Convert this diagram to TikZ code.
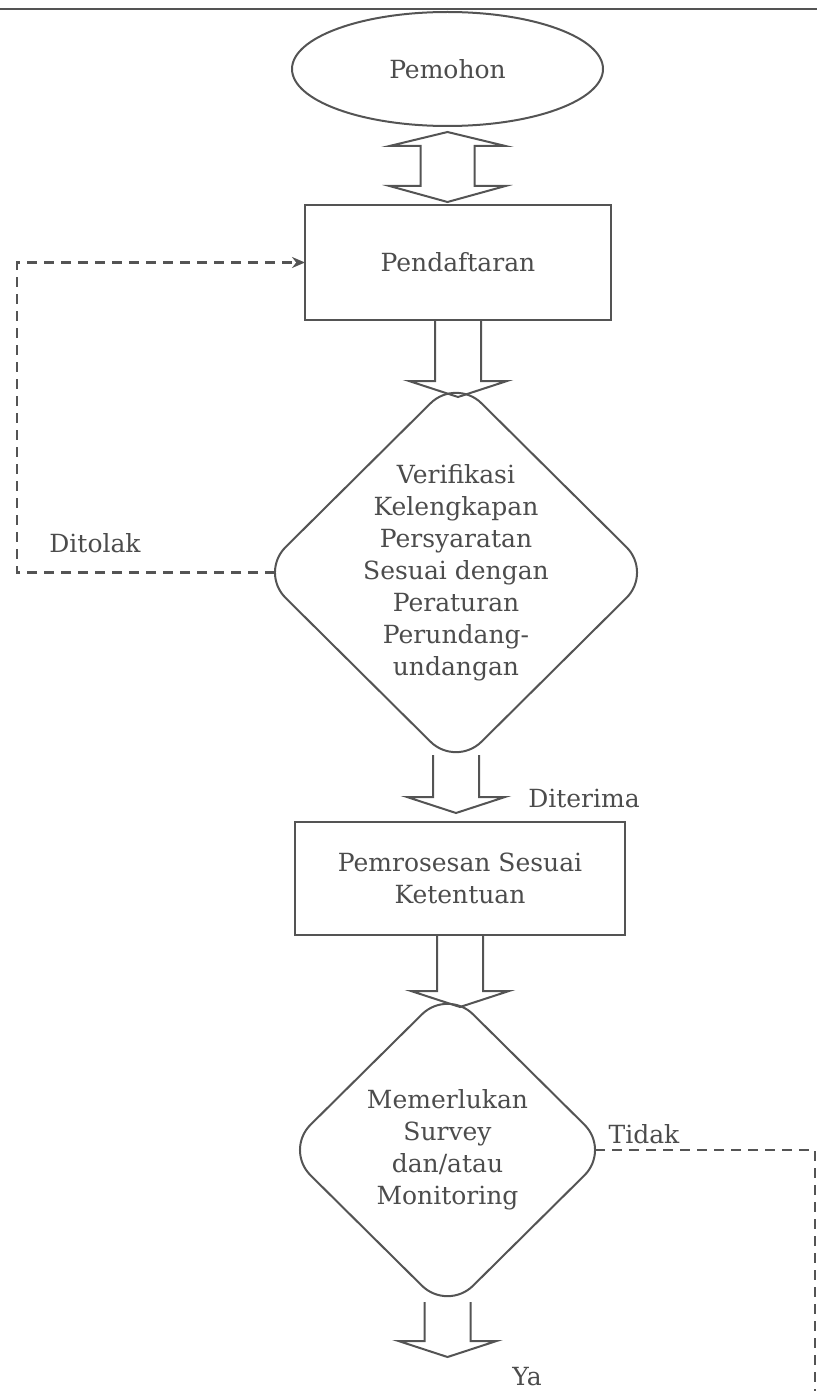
\documentclass[tikz,border=0pt]{standalone}
\usepackage{fontspec}
\setmainfont{DejaVu Serif}
\usetikzlibrary{arrows.meta, calc, shapes.geometric}

\definecolor{linegray}{gray}{0.33}
\definecolor{txtgray}{gray}{0.3}

% hollow block arrow, from #1 (top of shaft) down to #2 (tip)
\newcommand{\hollowarrow}[2]{%
  \draw[hollow] let \p1=(#1), \p2=(#2) in
    (\x1-23pt,\y1) -- (\x1-23pt,\y2+16pt) -- (\x1-49pt,\y2+16pt) -- (\x1,\y2)
    -- (\x1+49pt,\y2+16pt) -- (\x1+23pt,\y2+16pt) -- (\x1+23pt,\y1);}

\begin{document}
\begin{tikzpicture}[x=1pt, y=-1pt,
    every node/.style={font=\fontsize{25}{32}\selectfont, text=txtgray},
    box/.style={draw=linegray, line width=2pt, rectangle, inner sep=0pt, outer sep=0pt},
    terminal/.style={draw=linegray, line width=2pt, ellipse, inner sep=0pt, outer sep=0pt},
    decision/.style={draw=linegray, line width=2pt, diamond, rounded corners=36pt, inner sep=0pt, outer sep=0pt},
    hollow/.style={draw=linegray, line width=2pt, line join=miter},
    dashline/.style={draw=linegray, line width=2.4pt, dash pattern=on 10pt off 7pt},
    lbl/.style={inner sep=0pt}]
    \useasboundingbox (0,0) rectangle (817,1391);

    % garis atas halaman
    \draw[linegray, line width=2.5pt] (0,9) -- (817,9);

    % simpul utama
    \node[terminal, minimum width=311, minimum height=114] (pemohon) at (447.5,69) {Pemohon};
    \node[box, minimum width=306, minimum height=115] (pendaftaran) at (458,262.5) {Pendaftaran};
    \node[decision, minimum width=392, minimum height=389] (verif) at (456,572.5) {};
    \node[align=center] (verif-text) at (verif) {Verifikasi\\Kelengkapan\\Persyaratan\\Sesuai dengan\\Peraturan\\Perundang-\\undangan};
    \node[box, minimum width=330, minimum height=113, align=center] (proses) at (460,878.5) {Pemrosesan Sesuai\\Ketentuan};
    \node[decision, minimum width=325, minimum height=322] (survey) at (447.5,1150) {};
    \node[align=center] (survey-text) at (survey) {Memerlukan\\Survey\\dan/atau\\Monitoring};
    \coordinate (ya-tip) at (448,1357);
    \coordinate (tidak-end) at (815,1400);

    % label cabang
    \node[lbl] (ditolak) at (95,543) {Ditolak};
    \node[lbl] (diterima) at (584,798) {Diterima};
    \node[lbl] (tidak) at (644,1134) {Tidak};
    \node[lbl] (ya) at (527,1377) {Ya};

    % panah dua arah
    \draw[hollow] let \p1=($(pemohon.south)+(0,6)$), \p2=($(pendaftaran.north)+(0,-3)$) in
      (\x1,\y1) -- (\x1+58pt,\y1-14pt) -- (\x1+27pt,\y1-14pt) -- (\x1+27pt,\y2+16pt)
      -- (\x1+58pt,\y2+16pt) -- (\x1,\y2) -- (\x1-58pt,\y2+16pt) -- (\x1-27pt,\y2+16pt)
      -- (\x1-27pt,\y1-14pt) -- (\x1-58pt,\y1-14pt) -- cycle;

    % panah alur
    \hollowarrow{pendaftaran.south}{$(verif.north)+(0,19)$}
    \hollowarrow{$(verif.south)+(0,-12)$}{$(proses.north)+(0,-9)$}
    \hollowarrow{proses.south}{$(survey.north)+(0,18)$}
    \hollowarrow{$(survey.south)+(0,-9)$}{ya-tip}

    % garis putus-putus
    \draw[dashline, -{Stealth[length=13pt,width=11pt]}] ([xshift=15pt]verif.west) -- ++(-258,0) |- (pendaftaran.west);
    \draw[dashline] ([xshift=-15pt]survey.east) -| (tidak-end);
\end{tikzpicture}
\end{document}
